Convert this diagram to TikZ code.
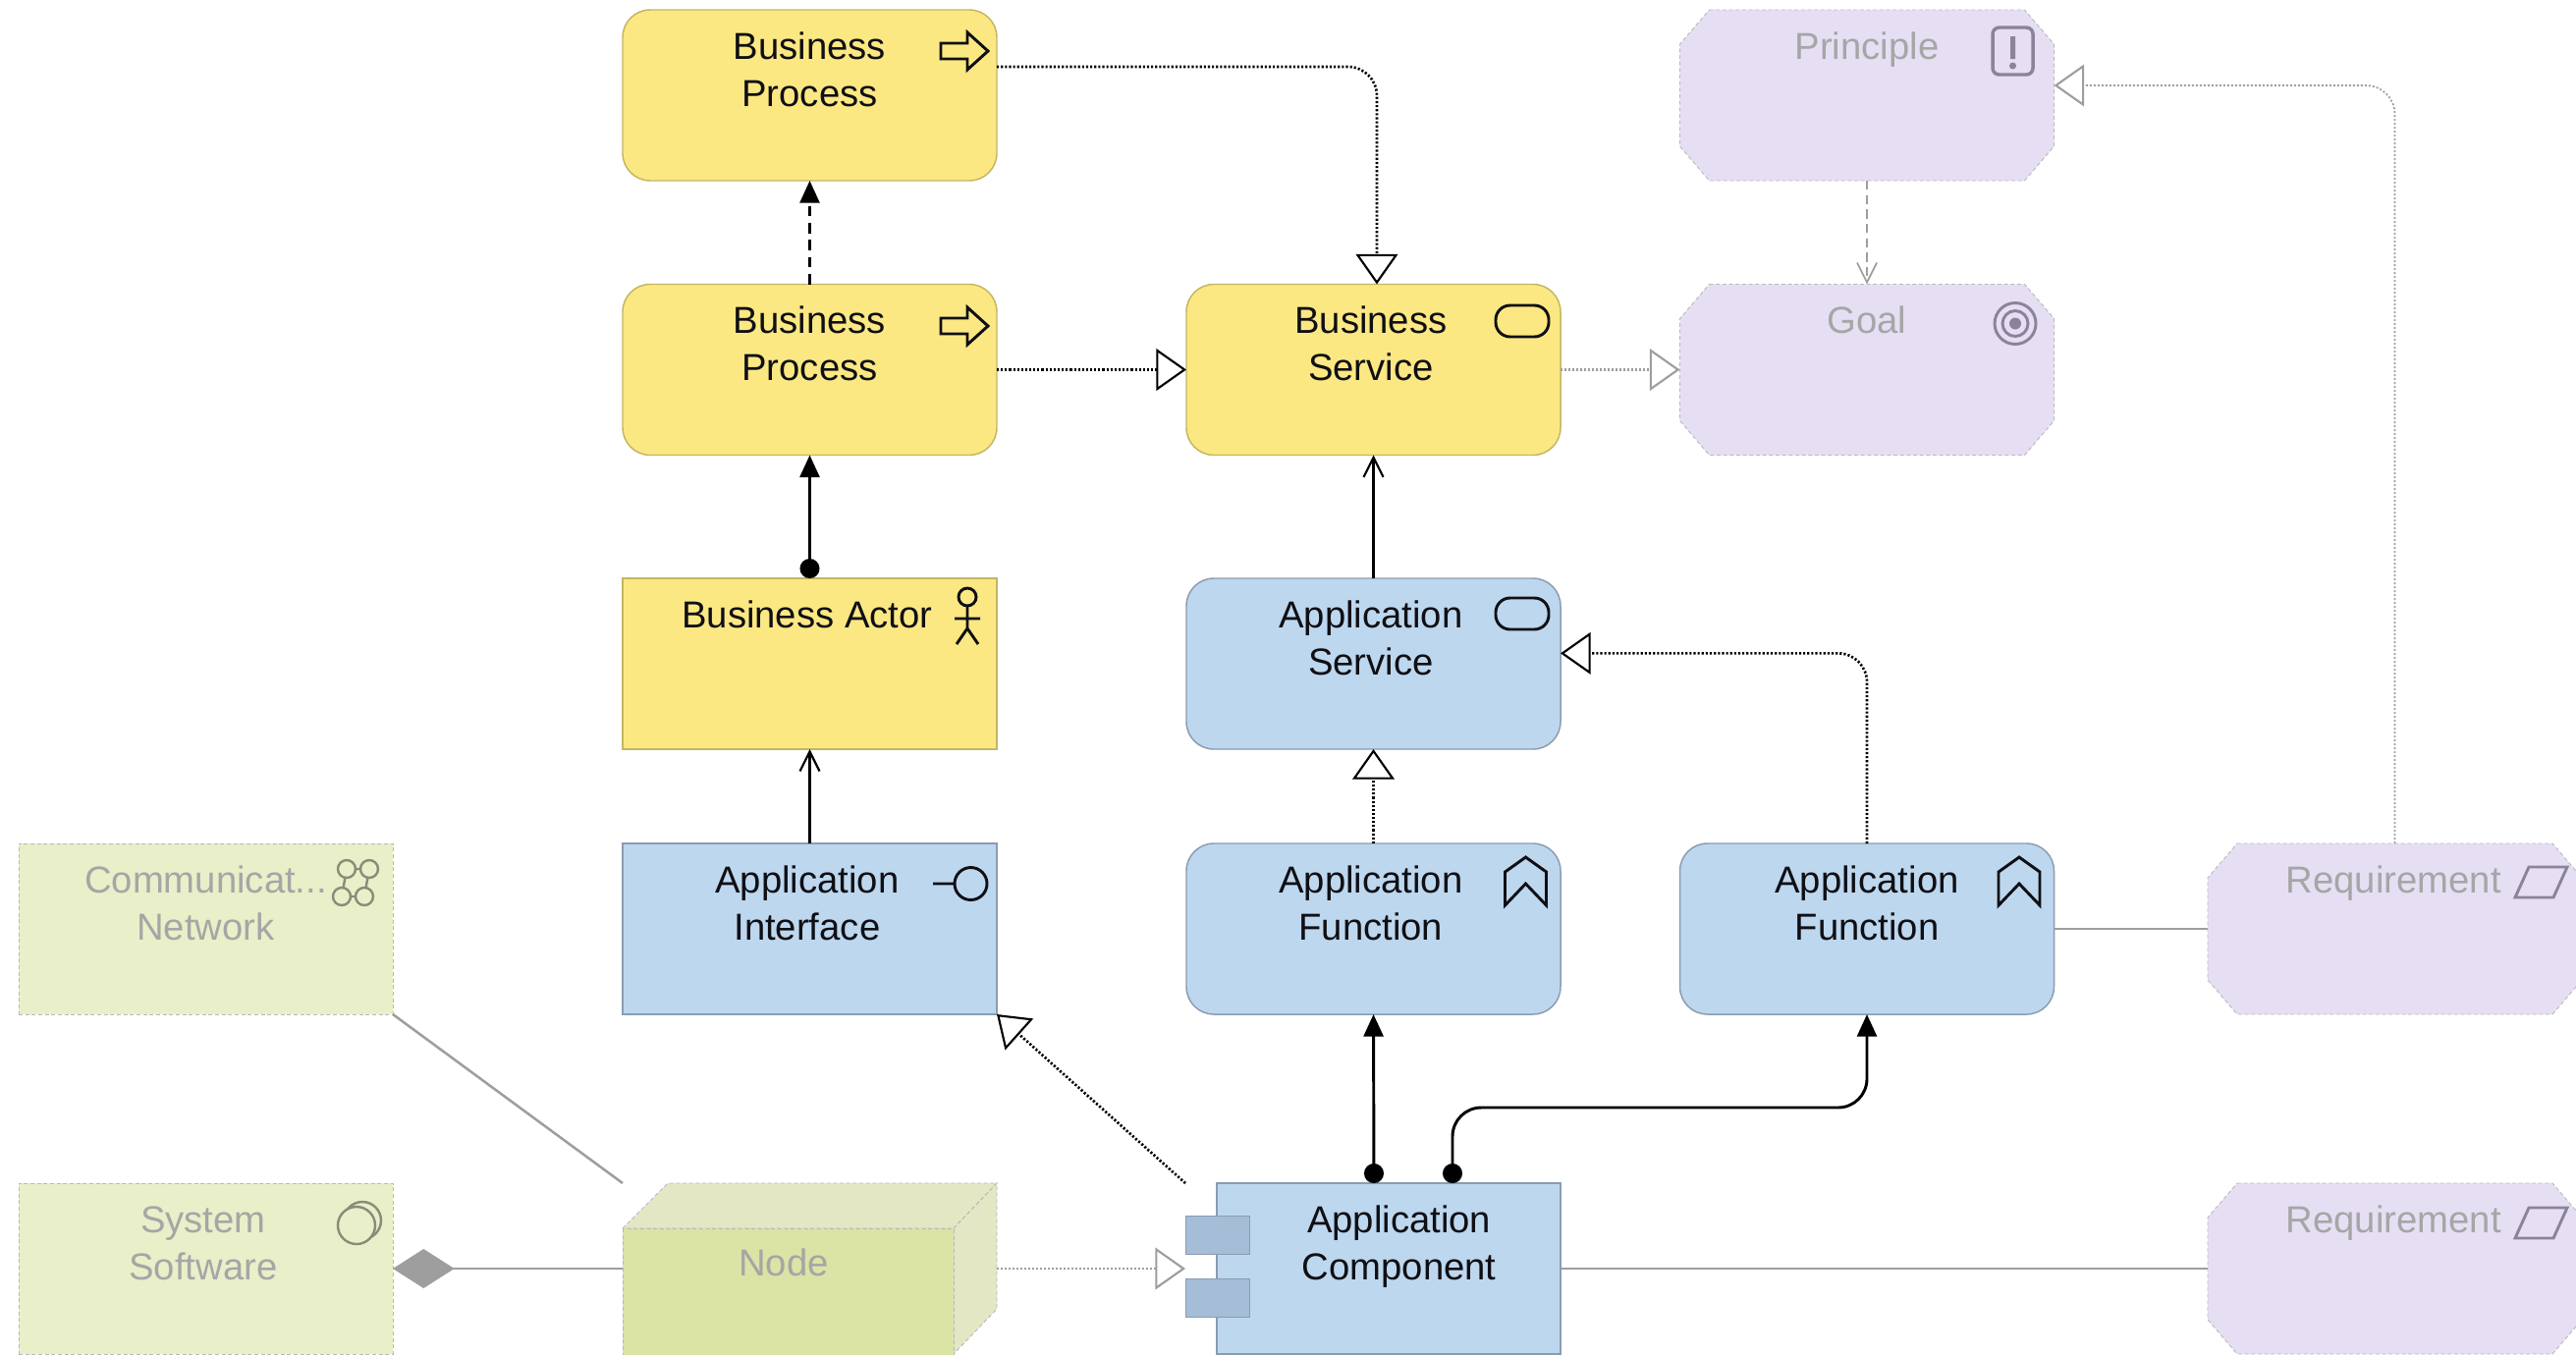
\documentclass[tikz,border=0pt]{standalone}
\usepackage{fontspec}
\setmainfont{Liberation Sans}
\usetikzlibrary{arrows.meta,calc}

\definecolor{bizyellow}{RGB}{251,232,131}
\definecolor{bizedge}{RGB}{196,182,98}
\definecolor{appblue}{RGB}{189,215,238}
\definecolor{appedge}{RGB}{139,156,176}
\definecolor{appport}{RGB}{165,189,214}
\definecolor{motpurple}{RGB}{230,223,244}
\definecolor{techgreen}{RGB}{233,239,200}
\definecolor{techfront}{RGB}{219,227,165}
\definecolor{techtop}{RGB}{227,231,196}
\definecolor{fadeedge}{RGB}{185,185,185}
\definecolor{fadeline}{RGB}{158,158,158}
\definecolor{inkdark}{RGB}{15,15,20}
\definecolor{inkfade}{RGB}{166,166,166}
\definecolor{inkmotif}{RGB}{138,131,153}
\definecolor{inktech}{RGB}{136,140,120}

\tikzset{every picture/.style={line width=0.75pt}}
\tikzset{
  boxbase/.style={minimum width=285.75pt,minimum height=130.5pt,inner sep=0pt,outer sep=0pt,line width=1.1pt},
  yellowrect/.style={boxbase,fill=bizyellow,draw=bizedge},
  yellowround/.style={yellowrect,rounded corners=21pt},
  bluerect/.style={boxbase,fill=appblue,draw=appedge},
  blueround/.style={bluerect,rounded corners=21pt},
  greenrect/.style={boxbase,fill=techgreen,draw=fadeedge,densely dashed,line width=0.7pt},
  octline/.style={fill=motpurple,draw=fadeedge,densely dashed,line width=0.7pt},
  lbl/.style={anchor=base,inner sep=0pt,align=center,font=\fontsize{28.7}{36}\selectfont},
  lbldark/.style={lbl,text=inkdark},
  lblfade/.style={lbl,text=inkfade},
  assign/.style={draw=black,line width=2.2pt,{Circle[length=15pt]}-{Triangle[length=17pt,width=15pt]}},
  trigger/.style={draw=black,line width=1.9pt,dash pattern=on 8pt off 5pt,-{Triangle[length=17pt,width=15pt]}},
  serve/.style={draw=black,line width=1.9pt,-{Straight Barb[length=15pt,width=15pt,line width=1.6pt]}},
  flowdot/.style={draw=black,line width=2pt,dash pattern=on 1.6pt off 1.5pt,-{Triangle[length=23pt,width=32pt,fill=white,line width=1.6pt]}},
  fadedot/.style={draw=fadeline,line width=1.8pt,dash pattern=on 1.5pt off 1.5pt,-{Triangle[length=23pt,width=32pt,fill=white,line width=1.6pt]}},
  fadeplain/.style={draw=fadeline,line width=1.9pt},
  darkicon/.style={color=inkdark},
  motificon/.style={color=inkmotif},
  techicon/.style={color=inktech},
  iconline/.style={line width=2.2pt,line join=miter},
  processicon/.pic={\draw[iconline] (-24,-8) -- (3,-8) -- (3,-19) -- (24,0) -- (3,19) -- (3,8) -- (-24,8) -- cycle;},
  serviceicon/.pic={\draw[iconline,rounded corners=11pt] (-27,-16) rectangle (27,16);},
  functionicon/.pic={\draw[iconline] (0,25) -- (21,10) -- (21,-24) -- (0,-2) -- (-21,-24) -- (-21,10) -- cycle;},
  reqicon/.pic={\draw[iconline] (-12,15.5) -- (27,15.5) -- (13,-15.5) -- (-26,-15.5) -- cycle;},
}
\newcommand{\octbox}[3]{%
  \node[boxbase] (#1) at (#2,#3) {};
  \draw[octline] (#2-160.5,#3-87) -- (#2+160.5,#3-87) -- (#2+190.5,#3-52) -- (#2+190.5,#3+52)
    -- (#2+160.5,#3+87) -- (#2-160.5,#3+87) -- (#2-190.5,#3+52) -- (#2-190.5,#3-52) -- cycle;
}

\begin{document}
\begin{tikzpicture}[x=0.75pt,y=0.75pt,yscale=-1,xscale=1]
\useasboundingbox (0,0) rectangle (2623,1379);

%Shape: Rounded Rect
\node[yellowround] (bproca) at (824.5,97) {};
\node[yellowround] (bprocb) at (824.5,376.5) {};
\node[yellowround] (bserv) at (1398.5,376.5) {};
%Shape: Rectangle
\node[yellowrect] (bactor) at (824.5,676) {};
\node[bluerect] (aintf) at (824.5,946) {};
%Shape: Rounded Rect
\node[blueround] (aserv) at (1398.5,676) {};
\node[blueround] (afunca) at (1398.5,946) {};
\node[blueround] (afuncb) at (1901,946) {};
%Shape: Octagon
\octbox{princ}{1901}{97}
\octbox{goal}{1901}{376.5}
\octbox{reqa}{2438.5}{946}
\octbox{reqb}{2438.5}{1292}
%Shape: Rectangle
\node[greenrect] (commnet) at (209.5,946) {};
\node[greenrect] (syssoft) at (209.5,1292) {};

%Shape: Cube
\node[minimum width=285.75pt,minimum height=130.5pt,inner sep=0pt,outer sep=0pt] (tnode) at (824.5,1292) {};
\draw[fill=techtop,draw=fadeedge,densely dashed,line width=0.7pt] (634,1251) -- (680,1205) -- (1015,1205) -- (971,1251) -- cycle;
\draw[fill=techtop,draw=fadeedge,densely dashed,line width=0.7pt] (971,1251) -- (1015,1205) -- (1015,1333) -- (971,1379) -- cycle;
\draw[fill=techfront,draw=fadeedge,densely dashed,line width=0.7pt] (634,1251) rectangle (971,1385);

%Shape: Component
\node[bluerect,minimum width=262.5pt] (acomp) at (1414,1292) {};
\node[minimum width=48.75pt,minimum height=29.25pt,inner sep=0pt,fill=appport,draw=appedge,line width=0.7pt] (aporta) at (1239.5,1257.5) {};
\node[minimum width=48.75pt,minimum height=29.25pt,inner sep=0pt,fill=appport,draw=appedge,line width=0.7pt] (aportb) at (1239.5,1321.5) {};

%Straight Lines
\coordinate (acomptail) at (1207,1205);
\coordinate (acompbend) at (1690,1128);
\draw[trigger] (bprocb.north) -- (bproca.south);
\draw[assign] (bactor.north) -- (bprocb.south);
\draw[serve] (aintf.north) -- (bactor.south);
\draw[serve] (aserv.north) -- (bserv.south);
\draw[flowdot,rounded corners=22pt] ([yshift=-21.75pt]bproca.east) -| ([xshift=2.6pt]bserv.north);
\draw[flowdot] (bprocb.east) -- (bserv.west);
\draw[flowdot] (afunca.north) -- (aserv.south);
\draw[flowdot,rounded corners=22pt] (afuncb.north) |- ([yshift=-8pt]aserv.east);
\draw[flowdot] (acomptail) -- (aintf.south east);
\draw[assign] ([xshift=-11.25pt]acomp.north) -- (afunca.south);
\draw[assign,rounded corners=22pt] ([xshift=48.75pt]acomp.north) |- (acompbend) -| (afuncb.south);
\draw[fadedot] (bserv.east) -- (goal.west);
\draw[draw=fadeline,line width=1.5pt,dash pattern=on 7pt off 4pt,-{Straight Barb[length=15pt,width=15pt,line width=1.3pt]}] (princ.south) -- (goal.north);
\draw[fadedot,line width=1.3pt,rounded corners=22pt] (reqa.north) |- ([yshift=-7.5pt]princ.east);
\draw[fadedot] (tnode.east) -- ([xshift=-24pt]acomp.west);
\draw[fadeplain] (afuncb.east) -- (reqa.west);
\draw[fadeplain] (acomp.east) -- (reqb.west);
\draw[fadeplain] (commnet.south east) -- (tnode.north west);
\draw[fadeplain,-{Diamond[length=47pt,width=30pt,fill=fadeline]}] (tnode.west) -- (syssoft.east);

% Text Node
\node[lbldark] (bprocat) at ([yshift=73.5pt]bproca.north) {Business\\Process};
\node[lbldark] (bprocbt) at ([yshift=73.5pt]bprocb.north) {Business\\Process};
\node[lbldark] (bservt) at ([yshift=73.5pt,xshift=-2pt]bserv.north) {Business\\Service};
\node[lbldark] (bactort) at ([yshift=37.5pt,xshift=-2pt]bactor.north) {Business Actor};
\node[lbldark] (aservt) at ([yshift=73.5pt,xshift=-2pt]aserv.north) {Application\\Service};
\node[lbldark] (aintft) at ([yshift=73.5pt,xshift=-2pt]aintf.north) {Application\\Interface};
\node[lbldark] (afuncat) at ([yshift=73.5pt,xshift=-2pt]afunca.north) {Application\\Function};
\node[lbldark] (afuncbt) at ([yshift=73.5pt]afuncb.north) {Application\\Function};
\node[lbldark] (acompt) at ([yshift=73.5pt,xshift=8pt]acomp.north) {Application\\Component};
\node[lblfade] (princt) at ([yshift=37.5pt]princ.north) {Principle};
\node[lblfade] (goalt) at ([yshift=37.5pt]goal.north) {Goal};
\node[lblfade] (reqat) at ([yshift=37.5pt,xshift=-1pt]reqa.north) {Requirement};
\node[lblfade] (reqbt) at ([yshift=37.5pt,xshift=-1pt]reqb.north) {Requirement};
\node[lblfade] (commnett) at ([yshift=73.5pt]commnet.north) {Communicat...\\Network};
\node[lblfade] (syssoftt) at ([yshift=73.5pt,xshift=-2pt]syssoft.north) {System\\Software};
\node[lblfade] (tnodet) at (798,1299) {Node};

%Shape: Icons
\pic[darkicon] at (982,52) {processicon};
\pic[darkicon] at (982,332) {processicon};
\pic[darkicon] at (1550,327) {serviceicon};
\pic[darkicon] at (1550,625) {serviceicon};
\pic[darkicon] at (1553.5,898) {functionicon};
\pic[darkicon] at (2056,898) {functionicon};
\pic[motificon] at (2587,898.5) {reqicon};
\pic[motificon] at (2587,1245.5) {reqicon};
% actor
\draw[darkicon,iconline] (985,608) circle (9) (985,617) -- (985,640) (972,630) -- (998,630) (974,656) -- (985,640) -- (996,656);
% interface
\draw[darkicon,iconline] (950,900) -- (972,900) (988.5,900) circle (16.5);
% principle
\draw[motificon,iconline,line width=2.6pt,rounded corners=5pt] (2029,28) rectangle (2070,76);
\fill[motificon] (2047,37) rectangle (2052,60) (2049.5,67) circle (3.5);
% goal
\draw[motificon,iconline] (2052,329.5) circle (21) circle (13);
\fill[motificon] (2052,329.5) circle (6);
% communication network
\draw[techicon,iconline,line width=1.8pt] (353,885) -- (376,885) -- (371,913) -- (348,913) -- cycle;
\draw[techicon,iconline,line width=1.8pt,fill=techgreen] (353,885) circle (9) (376,885) circle (9) (371,913) circle (9) (348,913) circle (9);
% system software
\draw[techicon,iconline,line width=1.8pt] (369,1243) circle (19);
\draw[techicon,iconline,line width=1.8pt,fill=techgreen] (363,1248) circle (19);

\end{tikzpicture}
\end{document}
